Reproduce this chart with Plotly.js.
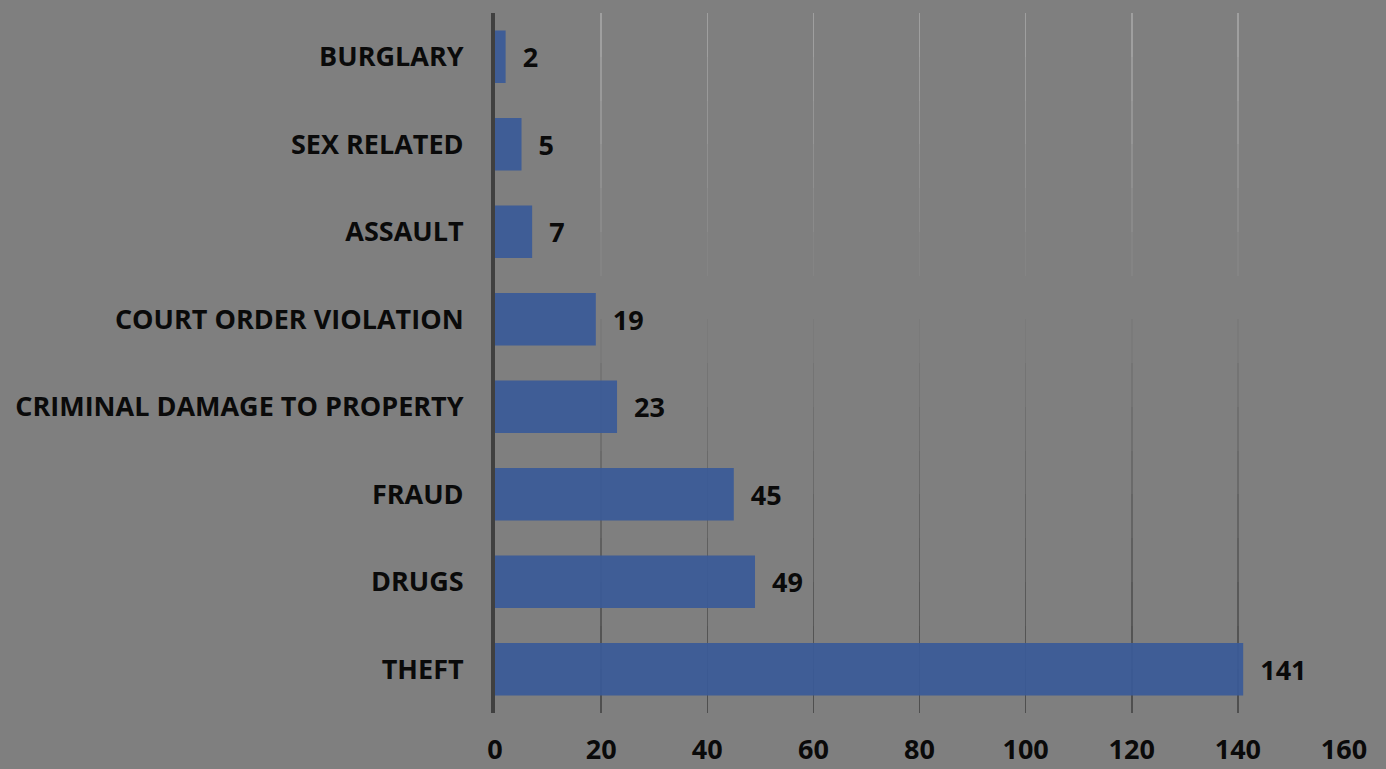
<!DOCTYPE html>
<html>
<head>
<meta charset="utf-8">
<script src="https://cdn.plot.ly/plotly-3.0.1.min.js"></script>
<style>
html,body{margin:0;padding:0;background:#7f7f7f;}
#chart{width:1386px;height:769px;}
</style>
</head>
<body>
<div id="chart"></div>
<script>
const categories = ['BURGLARY','SEX RELATED','ASSAULT','COURT ORDER VIOLATION','CRIMINAL DAMAGE TO PROPERTY','FRAUD','DRUGS','THEFT'];
const values = [2,5,7,19,23,45,49,141];
const xTickVals = [0,20,40,60,80,100,120,140,160];

const FONT = '"Open Sans", sans-serif';
const BG = '#7f7f7f';
const NSEG = 16;
const topGrey = 162, bottomGrey = 76;

const traces = [];
const layout = {
  width: 1386, height: 769,
  paper_bgcolor: BG, plot_bgcolor: 'rgba(0,0,0,0)',
  margin: {l: 495, r: 42, t: 13, b: 56, pad: 0},
  showlegend: false,
  font: {family: FONT, color: '#0a0a0a'}
};

// gradient gridlines: stacked segments, bottom (k=0) dark, top light
for (let k = 0; k < NSEG; k++) {
  const id = k + 1;
  const xs = id === 1 ? '' : String(id);
  const f = (k + 0.5) / NSEG;
  const g = Math.round(bottomGrey + (topGrey - bottomGrey) * f);
  const col = `rgb(${g},${g},${g})`;
  traces.push({type: 'scatter', x: [], y: [], xaxis: 'x' + xs, yaxis: 'y' + xs, hoverinfo: 'skip'});
  layout['xaxis' + xs] = {
    range: [0, 160], tickvals: xTickVals, showgrid: true, gridcolor: col, gridwidth: 1.5,
    showticklabels: false, ticks: '', zeroline: false, showline: false,
    anchor: 'y' + xs, domain: [0, 1], fixedrange: true
  };
  layout['yaxis' + xs] = {
    domain: [k / NSEG, (k + 1) / NSEG], range: [0, 1], showgrid: false, zeroline: false,
    showticklabels: false, ticks: '', showline: false, anchor: 'x' + xs, fixedrange: true
  };
}

const B = String(NSEG + 1);
traces.push({
  type: 'bar', orientation: 'h',
  y: categories, x: values,
  xaxis: 'x' + B, yaxis: 'y' + B,
  marker: {color: 'rgba(58,90,152,0.93)', line: {width: 0}},
  text: values.map(String),
  texttemplate: '\u00a0\u00a0%{text}',
  textposition: 'outside', cliponaxis: false,
  textfont: {family: FONT, size: 27, color: '#0a0a0a', weight: 'bold'},
  hoverinfo: 'skip'
});
layout['xaxis' + B] = {
  range: [0, 160], tickvals: xTickVals, showgrid: false, zeroline: false, showline: false,
  ticks: '', ticklabelstandoff: 18,
  tickfont: {family: FONT, size: 27, color: '#0a0a0a', weight: 'bold'},
  anchor: 'y' + B, domain: [0, 1], fixedrange: true
};
layout['yaxis' + B] = {
  type: 'category', autorange: 'reversed', domain: [0, 1],
  showgrid: false, zeroline: false, showline: true, linecolor: '#404040', linewidth: 4,
  ticks: '', ticklabelstandoff: 22,
  tickfont: {family: FONT, size: 27, color: '#0a0a0a', weight: 'bold'},
  anchor: 'x' + B, fixedrange: true
};
layout.bargap = 0.4;

Plotly.newPlot('chart', traces, layout, {displayModeBar: false, staticPlot: true});
</script>
</body>
</html>
